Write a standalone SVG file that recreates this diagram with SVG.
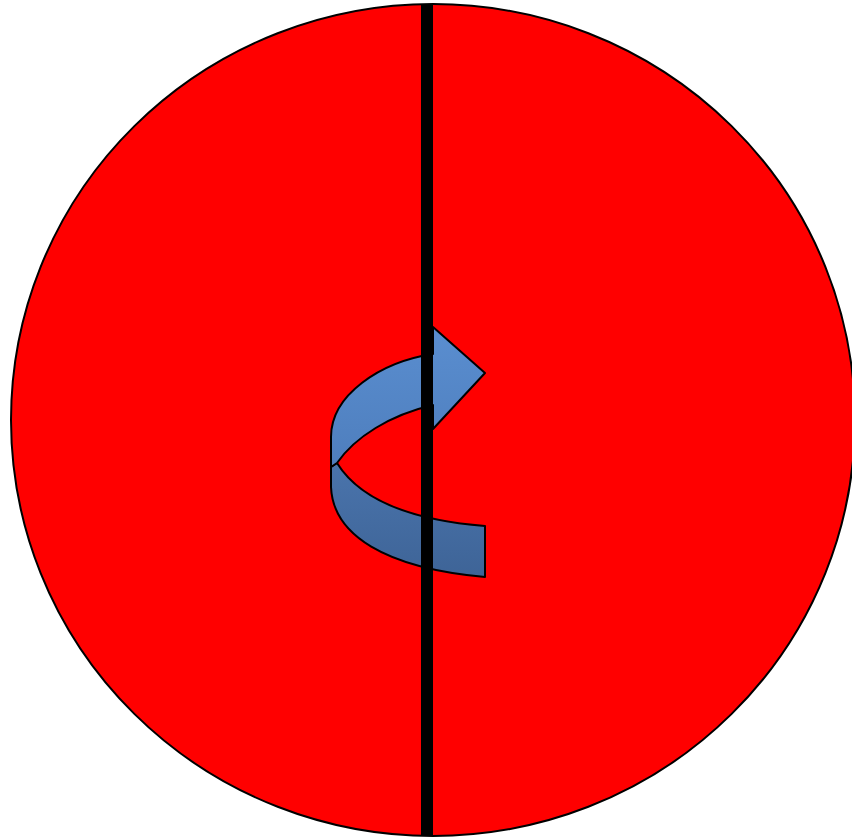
<svg xmlns="http://www.w3.org/2000/svg" width="852" height="838" viewBox="0 0 852 838">
<style>
.shape{stroke:#000;stroke-width:2;stroke-linejoin:round}
</style>
<defs>
<linearGradient id="gUp" x1="0" y1="0" x2="0" y2="1">
<stop offset="0" stop-color="#5A8ED0"/>
<stop offset="1" stop-color="#4E7EBD"/>
</linearGradient>
<linearGradient id="gLo" x1="0" y1="0" x2="0" y2="1">
<stop offset="0" stop-color="#4A74AC"/>
<stop offset="1" stop-color="#3E6497"/>
</linearGradient>
</defs>
<g id="disc">
<ellipse class="shape" cx="433" cy="420" rx="422" ry="416" fill="#FF0000"/>
</g>
<g id="rotation-arrow">
<path class="shape" fill="url(#gLo)" d="M331,467 L337,463 C360,500 410,520 485,526 L485,577 C385,568 333,535 331,487 Z"/>
<path class="shape" fill="url(#gUp)" d="M433,354 L433,327 L485,373 L433,429 L433,405 C390,415 355,437 337,463 L331,467 L331,437 C331,395 380,362 433,354 Z"/>
</g>
<g id="connectors">
<line id="axis" x1="427" y1="5" x2="427" y2="836" stroke="#000" stroke-width="12"/>
</g>
</svg>
